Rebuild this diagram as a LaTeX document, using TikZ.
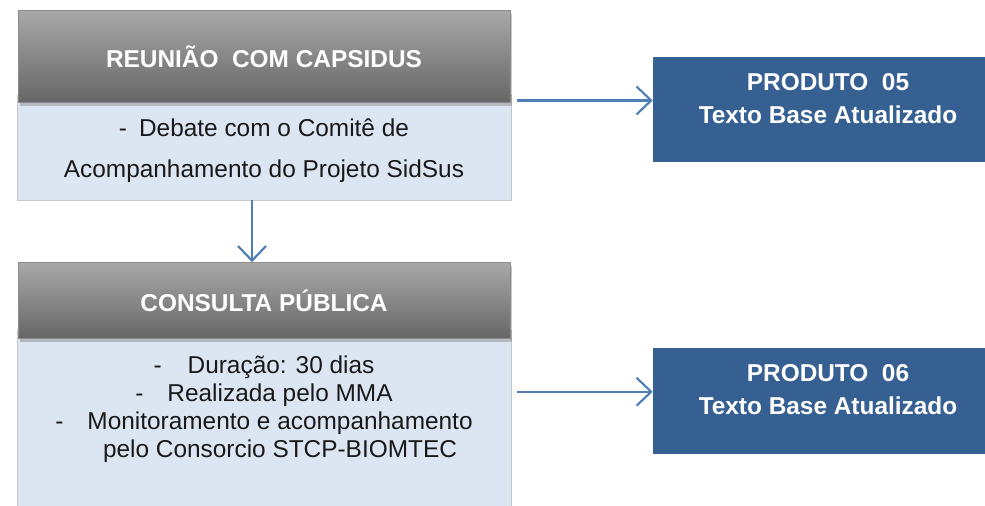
\documentclass[tikz,border=0pt]{standalone}
\usepackage{fontspec}
\setmainfont{Liberation Sans}
\usetikzlibrary{positioning, arrows.meta, shadows}

\definecolor{headgray}{HTML}{7F7F7F}
\definecolor{bodyblue}{HTML}{DCE6F2}
\definecolor{prodblue}{HTML}{366092}
\definecolor{flowblue}{HTML}{4F7DB5}

\begin{document}
\begin{tikzpicture}[x=0.75pt, y=-0.75pt,
  head/.style = {rectangle, top color=black!34, bottom color=black!60,
    draw=black!45, minimum width=369pt, text=white,
    font=\fontsize{18.3pt}{22pt}\selectfont\bfseries,
    drop shadow={shadow xshift=1.5pt, shadow yshift=-2.5pt, opacity=.45}},
  body/.style = {rectangle, fill=bodyblue, draw=black!22, minimum width=370.5pt,
    align=center, font=\fontsize{18.3pt}{21pt}\selectfont, text=black!90},
  prod/.style = {rectangle, fill=prodblue, minimum width=262.5pt,
    minimum height=78.75pt, align=center, text=white,
    font=\fontsize{18.3pt}{24.75pt}\selectfont\bfseries},
  flow/.style = {draw=flowblue, line width=1.6pt,
    -{Straight Barb[length=11pt, width=21pt]}}]
\useasboundingbox (0,0) rectangle (985,506);

% left column: bodies first, headers on top of them
\node[body, minimum height=78.75pt] (body1) at (264,147.5)
  {\rule{0pt}{18pt}-\hspace{9pt}Debate com o Comitê de\\[9.75pt]%
   Acompanhamento do Projeto SidSus};
\node[head, minimum height=69pt] (head1) [above=-6pt of body1]
  {REUNIÃO~~COM CAPSIDUS};

\node[body, minimum height=136.5pt] (body2) at (264,421)
  {-\hspace{19.5pt}Duração: 30 dias\\
   -\hspace{18pt}Realizada pelo MMA\\
   -\hspace{18pt}Monitoramento e acompanhamento\\
   \hspace*{24pt}pelo Consorcio STCP-BIOMTEC\rule[-22pt]{0pt}{0pt}};
\node[head, minimum height=57pt] (head2) [above=-6.75pt of body2]
  {CONSULTA PÚBLICA};

% products
\node[prod] (prod1) at (828,109.5)
  {PRODUTO~~05\\Texto Base Atualizado\rule[-16.5pt]{0pt}{0pt}};
\node[prod, minimum height=79.5pt] (prod2) [below=138.75pt of prod1]
  {PRODUTO~~06\\Texto Base Atualizado\rule[-16.5pt]{0pt}{0pt}};

% connectors
\coordinate (o1) at ([xshift=4pt, yshift=-4.3pt]body1.north east);
\coordinate (o2) at ([xshift=4pt, yshift=-46.5pt]body2.north east);
\draw[flow] (o1) -- (o1 -| prod1.west);
\draw[flow] (o2) -- (o2 -| prod2.west);
\draw[flow] ([xshift=-9pt]body1.south) -- ([xshift=-9pt]head2.north);
\end{tikzpicture}
\end{document}
